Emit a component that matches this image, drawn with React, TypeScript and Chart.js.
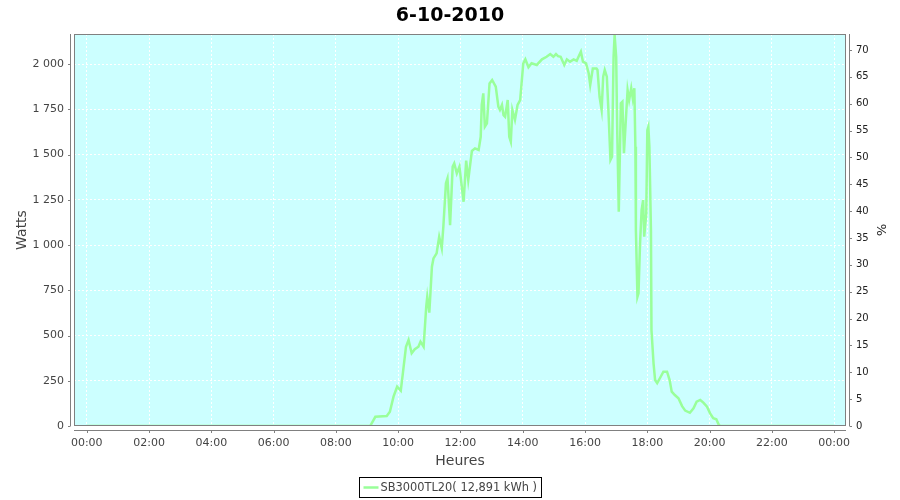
import React, { useEffect, useRef } from 'react';
import { Chart, registerables } from 'chart.js';

Chart.register(...registerables);

const chartTitle = '6-10-2010';
const seriesLabel = 'SB3000TL20( 12,891 kWh )';
const xAxisTitle = 'Heures';
const leftAxisTitle = 'Watts';
const rightAxisTitle = '%';

const times = [
  '00:00', '09:00', '09:06', '09:16', '09:38', '09:44', '09:51', '09:58', '10:05', '10:09',
  '10:15', '10:20', '10:26', '10:32', '10:39', '10:43', '10:49', '10:54', '10:56', '11:00',
  '11:05', '11:08', '11:14', '11:19', '11:24', '11:27', '11:32', '11:35', '11:40', '11:45',
  '11:48', '11:53', '11:58', '12:06', '12:11', '12:15', '12:22', '12:28', '12:35', '12:39',
  '12:41', '12:44', '12:47', '12:51', '12:56', '13:01', '13:08', '13:13', '13:16', '13:20',
  '13:23', '13:26', '13:31', '13:34', '13:37', '13:40', '13:45', '13:50', '13:55', '14:01',
  '14:05', '14:11', '14:17', '14:27', '14:37', '14:46', '14:53', '14:59', '15:04', '15:08',
  '15:13', '15:20', '15:25', '15:31', '15:38', '15:44', '15:47', '15:52', '15:56', '16:02',
  '16:07', '16:10', '16:15', '16:22', '16:24', '16:28', '16:32', '16:35', '16:38', '16:42',
  '16:45', '16:49', '16:52', '16:55', '16:57', '17:00', '17:02', '17:05', '17:09', '17:12',
  '17:15', '17:19', '17:22', '17:25', '17:29', '17:32', '17:35', '17:37', '17:38', '17:41',
  '17:43', '17:46', '17:49', '17:52', '17:54', '17:58', '18:00', '18:02', '18:04', '18:07',
  '18:08', '18:12', '18:15', '18:19', '18:25', '18:31', '18:38', '18:43', '18:47', '18:53',
  '19:00', '19:07', '19:13', '19:22', '19:29', '19:35', '19:42', '19:48', '19:55', '20:01',
  '20:07', '20:13', '20:17', '20:20', '24:00',
];

const watts = [
  0, 0, 0, 51, 55, 79, 162, 217, 195, 291,
  438, 475, 402, 424, 438, 466, 438, 659, 714, 626,
  880, 926, 954, 1046, 982, 1101, 1341, 1368, 1110, 1433,
  1451, 1396, 1433, 1239, 1466, 1359, 1520, 1534, 1525, 1598,
  1774, 1838, 1654, 1672, 1893, 1912, 1875, 1764, 1746, 1774,
  1718, 1709, 1801, 1598, 1571, 1746, 1691, 1774, 1801, 2004,
  2026, 1982, 2004, 1995, 2026, 2040, 2055, 2040, 2055, 2044,
  2040, 1995, 2026, 2013, 2026, 2018, 2037, 2068, 2013, 2004,
  1949, 1884, 1976, 1976, 1967, 1819, 1746, 1930, 1967, 1930,
  1746, 1470, 1488, 2040, 2160, 2040, 1635, 1184, 1783, 1792,
  1507, 1709, 1856, 1801, 1866, 1810, 1866, 1543, 1083, 714,
  733, 1009, 1193, 1249, 1046, 1175, 1635, 1654, 1543, 1083,
  530, 346, 254, 237, 268, 300, 300, 254, 190, 171,
  153, 110, 85, 73, 98, 134, 144, 129, 107, 70,
  43, 37, 11, 0, 0,
];

const xTickHours = [0, 2, 4, 6, 8, 10, 12, 14, 16, 18, 20, 22, 24];
const leftTicks = [0, 250, 500, 750, 1000, 1250, 1500, 1750, 2000];
const rightTicks = [0, 5, 10, 15, 20, 25, 30, 35, 40, 45, 50, 55, 60, 65, 70];

const X_MIN = -0.41;
const X_MAX = 24.38;
const W_MAX = 2166;
const PCT_MAX = 72.98;

const LINE_COLOR = '#99ff99';
const PLOT_BG = '#ccffff';
const AXIS_GRAY = '#808080';
const FONT = '"DejaVu Sans", sans-serif';

function toHours(t: string): number {
  const [h, m] = t.split(':').map(Number);
  return h + m / 60;
}

function fmtThousands(v: number): string {
  return Math.round(v).toString().replace(/\B(?=(\d{3})+(?!\d))/g, ' ');
}

function fmtHour(v: number): string {
  return String(Math.round(v) % 24).padStart(2, '0') + ':00';
}

const jfreePlugin = {
  id: 'jfree',
  beforeDraw(chart: any) {
    const { ctx, chartArea, width, height } = chart;
    ctx.save();
    ctx.fillStyle = '#ffffff';
    ctx.fillRect(0, 0, width, height);
    ctx.fillStyle = PLOT_BG;
    ctx.fillRect(chartArea.left, chartArea.top, chartArea.right - chartArea.left, chartArea.bottom - chartArea.top);
    ctx.restore();
  },
  afterDraw(chart: any) {
    const { ctx, chartArea } = chart;
    const { left, right, top, bottom } = chartArea;
    const xs = chart.scales.x;
    const ys = chart.scales.y;
    const ys2 = chart.scales.y1;
    ctx.save();
    ctx.strokeStyle = AXIS_GRAY;
    ctx.lineWidth = 1;
    ctx.strokeRect(left + 0.5, top + 0.5, right - left - 1, bottom - top - 1);
    ctx.beginPath();
    ctx.moveTo(left - 3.5, top);
    ctx.lineTo(left - 3.5, bottom);
    ctx.moveTo(left, bottom + 4.5);
    ctx.lineTo(right, bottom + 4.5);
    ctx.moveTo(right + 3.5, top);
    ctx.lineTo(right + 3.5, bottom);
    leftTicks.forEach((v) => {
      const p = Math.round(ys.getPixelForValue(v)) + 0.5;
      ctx.moveTo(left - 6, p);
      ctx.lineTo(left - 3.5, p);
    });
    xTickHours.forEach((v) => {
      const p = Math.round(xs.getPixelForValue(v)) + 0.5;
      ctx.moveTo(p, bottom + 4.5);
      ctx.lineTo(p, bottom + 7);
    });
    rightTicks.forEach((v) => {
      const p = Math.round(ys2.getPixelForValue(v)) + 0.5;
      ctx.moveTo(right + 3.5, p);
      ctx.lineTo(right + 6, p);
    });
    ctx.stroke();

    const label = chart.data.datasets[0].label as string;
    ctx.font = '11.4px ' + FONT;
    const tw = ctx.measureText(label).width;
    const boxW = Math.round(4 + 15 + 2 + tw + 4);
    const boxH = 20;
    const x0 = Math.round((chart.width - boxW) / 2) + 0.5;
    const y0 = chart.height - 23 + 0.5;
    ctx.fillStyle = '#ffffff';
    ctx.fillRect(x0, y0, boxW, boxH);
    ctx.strokeStyle = '#000000';
    ctx.lineWidth = 1;
    ctx.strokeRect(x0, y0, boxW, boxH);
    ctx.strokeStyle = LINE_COLOR;
    ctx.lineWidth = 2.5;
    ctx.beginPath();
    ctx.moveTo(x0 + 4, y0 + boxH / 2);
    ctx.lineTo(x0 + 19, y0 + boxH / 2);
    ctx.stroke();
    ctx.fillStyle = '#444444';
    ctx.textBaseline = 'middle';
    ctx.textAlign = 'left';
    ctx.fillText(label, x0 + 21, y0 + boxH / 2 + 0.5);
    ctx.restore();
  },
};

export default function App() {
  const canvasRef = useRef<HTMLCanvasElement | null>(null);

  useEffect(() => {
    if (!canvasRef.current) return;
    const points = times.map((t, i) => ({ x: toHours(t), y: watts[i] }));
    const chart = new Chart(canvasRef.current, {
      type: 'line',
      data: {
        datasets: [
          {
            label: seriesLabel,
            data: points,
            borderColor: LINE_COLOR,
            backgroundColor: LINE_COLOR,
            borderWidth: 2.5,
            pointRadius: 0,
            tension: 0,
            fill: false,
            yAxisID: 'y',
          },
        ],
      },
      options: {
        animation: false,
        responsive: false,
        layout: { padding: { left: 0, right: 0, top: 0, bottom: 26 } },
        plugins: {
          legend: { display: false },
          tooltip: { enabled: false },
          title: {
            display: true,
            text: chartTitle,
            color: '#000000',
            font: { family: FONT, size: 19, weight: 'bold' },
            padding: { top: 5, bottom: 6.2 },
          },
        },
        scales: {
          x: {
            type: 'linear',
            min: X_MIN,
            max: X_MAX,
            afterBuildTicks: (s: any) => {
              s.ticks = xTickHours.map((v) => ({ value: v }));
            },
            afterFit: (s: any) => {
              s.height = 48;
            },
            grid: { color: '#ffffff', lineWidth: 1, drawTicks: false },
            border: { display: false, dash: [2, 2] },
            ticks: {
              color: '#444444',
              font: { family: FONT, size: 11 },
              padding: 11,
              maxRotation: 0,
              autoSkip: false,
              callback: (v: any) => fmtHour(Number(v)),
            },
            title: {
              display: true,
              text: xAxisTitle,
              color: '#444444',
              font: { family: FONT, size: 14 },
              padding: { top: 0, bottom: 4 },
            },
          },
          y: {
            type: 'linear',
            position: 'left',
            min: 0,
            max: W_MAX,
            afterBuildTicks: (s: any) => {
              s.ticks = leftTicks.map((v) => ({ value: v }));
            },
            afterFit: (s: any) => {
              s.width = 74;
            },
            grid: { color: '#ffffff', lineWidth: 1, drawTicks: false },
            border: { display: false, dash: [2, 2] },
            ticks: {
              color: '#444444',
              font: { family: FONT, size: 11 },
              padding: 10,
              autoSkip: false,
              callback: (v: any) => fmtThousands(Number(v)),
            },
            title: {
              display: true,
              text: leftAxisTitle,
              color: '#444444',
              font: { family: FONT, size: 14 },
              padding: { top: 13.6, bottom: 0 },
            },
          },
          y1: {
            type: 'linear',
            position: 'right',
            min: 0,
            max: PCT_MAX,
            afterBuildTicks: (s: any) => {
              s.ticks = rightTicks.map((v) => ({ value: v }));
            },
            afterFit: (s: any) => {
              s.width = 54;
            },
            grid: { display: false, drawTicks: false },
            border: { display: false },
            ticks: {
              color: '#222222',
              font: { family: FONT, size: 10 },
              padding: 10,
              autoSkip: false,
              callback: (v: any) => String(v),
            },
            title: {
              display: true,
              text: rightAxisTitle,
              color: '#222222',
              font: { family: FONT, size: 13 },
              padding: { top: 12, bottom: 0 },
            },
          },
        },
      },
      plugins: [jfreePlugin],
    } as any);
    return () => chart.destroy();
  }, []);

  return (
    <div style={{ position: 'absolute', left: 0, top: 0, width: 900, height: 500, background: '#ffffff' }}>
      <canvas ref={canvasRef} width={900} height={500} style={{ display: 'block' }} />
    </div>
  );
}
